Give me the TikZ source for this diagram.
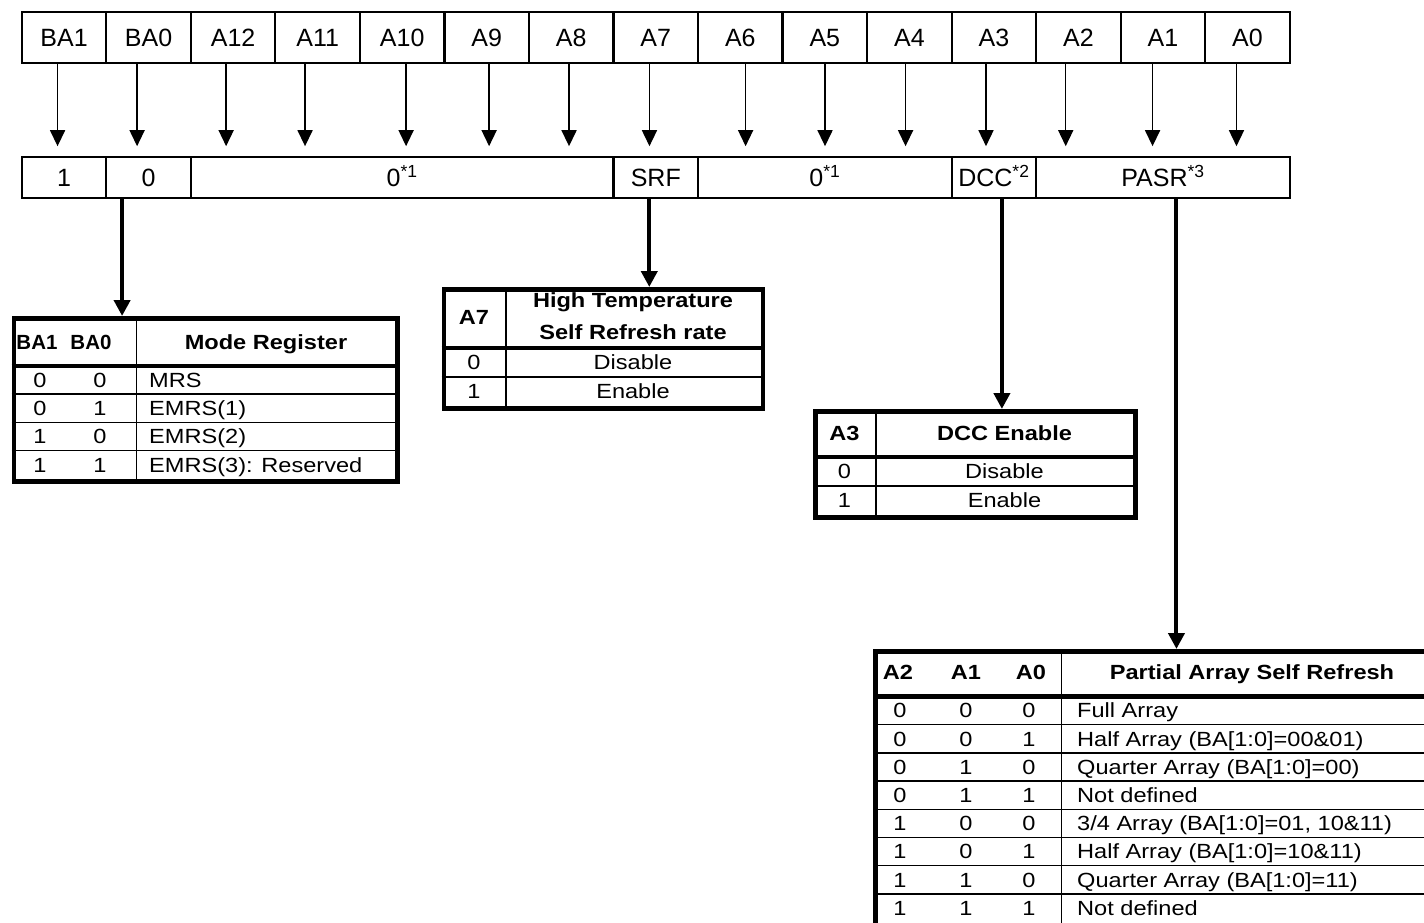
\documentclass[tikz,border=0pt]{standalone}
\usepackage{fontspec}
\setmainfont{Liberation Sans}
\newfontfamily\tabfont[FakeStretch=1.15]{Liberation Sans}
\usepackage{xcolor}
\usetikzlibrary{arrows.meta,positioning}

\tikzset{
  bitcell/.style={draw, line width=2.2pt, minimum width=84.53pt, minimum height=51.6pt,
    inner sep=0pt, anchor=north west, text height=17.9pt, text depth=0pt,
    font=\fontsize{25}{30}\selectfont},
  valcell/.style={bitcell, minimum height=41pt},
  bitarrow/.style={-{Triangle[length=16pt,width=15pt]}, line width=1.5pt, shorten >=9.5pt},
  fieldarrow/.style={-{Triangle[length=16pt,width=16pt]}, line width=4pt},
  tblframe/.style={draw, line width=4.5pt, inner sep=0pt, anchor=north west},
  tblrule/.style={line width=4.5pt},
  tblline/.style={line width=1.5pt},
  tbltxt/.style={inner sep=0pt, text height=14.7pt, text depth=0pt,
    font=\tabfont\fontsize{20.5}{26}\selectfont},
  tblhead/.style={tbltxt, font=\tabfont\bfseries\fontsize{20.5}{26}\selectfont}
}

\begin{document}
\begin{tikzpicture}[x=1pt, y=-1pt]
  \path[use as bounding box, fill=white] (0,0) rectangle (1424,923);

  % Address bits
  \foreach \lbl [count=\i from 0] in {BA1,BA0,A12,A11,A10,A9,A8,A7,A6,A5,A4,A3,A2,A1,A0}
    \node[bitcell] (b\i) at ({20.7+84.53*\i},10.7) {\lbl};

  % Register fields
  \foreach \name/\f/\s/\txt in {v0/0/1/1, v1/1/1/0, v2/2/5/{0\textsuperscript{*1}},
      v3/7/1/SRF, v4/8/3/{0\textsuperscript{*1}}, v5/11/1/{DCC\textsuperscript{*2}},
      v6/12/3/{PASR\textsuperscript{*3}}}
    \node[valcell, minimum width=\s*84.53pt] (\name) at ({20.7+84.53*\f},155.7) {\txt};

  % Mode register table
  \node[tblframe, minimum width=383.3pt, minimum height=163pt] (modetbl) at (11.7,316) {};
  \draw[tblrule] (11.7,366) -- (395,366);
  \draw[tblline] (136.7,316) -- (136.7,479);
  \foreach \k in {1,2,3}
    \draw[tblline] (11.7,{366+28.2*\k}) -- (395,{366+28.2*\k});
  \node[tblhead, font=\bfseries\fontsize{20.5}{26}\selectfont] (mh1) at (37,342) {BA1};
  \node[tblhead, font=\bfseries\fontsize{20.5}{26}\selectfont] (mh2) at (91,342) {BA0};
  \node[tblhead] (mh3) at (266,342) {Mode Register};
  \foreach \p/\q/\t [count=\k] in {0/0/MRS, 0/1/{EMRS(1)}, 1/0/{EMRS(2)}, 1/1/{EMRS(3): Reserved}} {
    \node[tbltxt] (mp\k) at (40,{351.9+28.2*\k}) {\p};
    \node[tbltxt] (mq\k) at (100,{351.9+28.2*\k}) {\q};
    \node[tbltxt, anchor=west] (mr\k) at (149,{351.9+28.2*\k}) {\t};
  }

  % Self refresh table
  \node[tblframe, minimum width=319pt, minimum height=119pt] (srftbl) at (441.5,287) {};
  \draw[tblrule] (441.5,348) -- (760.5,348);
  \draw[tblline] (441.5,377) -- (760.5,377);
  \draw[tblline] (506,287) -- (506,406);
  \node[tblhead] (sh1) at (474,317.5) {A7};
  \node[tblhead] (sh2) at (633,300.5) {High Temperature};
  \node[tblhead] (sh3) at (633,332.5) {Self Refresh rate};
  \node[tbltxt] (sa1) at (474,362.5) {0};
  \node[tbltxt] (sb1) at (633,362.5) {Disable};
  \node[tbltxt] (sa2) at (474,391.5) {1};
  \node[tbltxt] (sb2) at (633,391.5) {Enable};

  % DCC table
  \node[tblframe, minimum width=320pt, minimum height=106pt] (dcctbl) at (813,409) {};
  \draw[tblrule] (813,457) -- (1133,457);
  \draw[tblline] (813,486) -- (1133,486);
  \draw[tblline] (876,409) -- (876,515);
  \node[tblhead] (dh1) at (844.5,433) {A3};
  \node[tblhead] (dh2) at (1004.5,433) {DCC Enable};
  \node[tbltxt] (da1) at (844.5,471.5) {0};
  \node[tbltxt] (db1) at (1004.5,471.5) {Disable};
  \node[tbltxt] (da2) at (844.5,500.5) {1};
  \node[tbltxt] (db2) at (1004.5,500.5) {Enable};

  % PASR table
  \node[tblframe, minimum width=569pt, minimum height=277pt] (pasrtbl) at (873,649) {};
  \draw[tblrule] (873,696.5) -- (1442,696.5);
  \draw[tblline] (1061.7,649) -- (1061.7,926);
  \foreach \k in {1,...,7}
    \draw[tblline] (873,{696.5+28.2*\k}) -- (1442,{696.5+28.2*\k});
  \node[tblhead] (ph1) at (898,672) {A2};
  \node[tblhead] (ph2) at (966,672) {A1};
  \node[tblhead] (ph3) at (1031,672) {A0};
  \node[tblhead] (ph4) at (1252,672) {Partial Array Self Refresh};
  \foreach \p/\q/\r/\t [count=\k] in {0/0/0/{Full Array}, 0/0/1/{Half Array (BA[1:0]=00\&01)},
      0/1/0/{Quarter Array (BA[1:0]=00)}, 0/1/1/{Not defined},
      1/0/0/{3/4 Array (BA[1:0]=01, 10\&11)}, 1/0/1/{Half Array (BA[1:0]=10\&11)},
      1/1/0/{Quarter Array (BA[1:0]=11)}, 1/1/1/{Not defined}} {
    \node[tbltxt] (pp\k) at (900,{682.4+28.2*\k}) {\p};
    \node[tbltxt] (pq\k) at (966,{682.4+28.2*\k}) {\q};
    \node[tbltxt] (pr\k) at (1029,{682.4+28.2*\k}) {\r};
    \node[tbltxt, anchor=west] (ps\k) at (1077,{682.4+28.2*\k}) {\t};
  }

  % Bit arrows
  \foreach \i/\dx/\g in {0/-6.5/v0, 1/-11.5/v1, 2/-7/v2, 3/-12.6/v2, 4/3.9/v2, 5/2.4/v2,
      6/-2.2/v2, 7/-6.3/v3, 8/5.3/v4, 9/0.2/v4, 10/-3.8/v4, 11/-7.9/v5, 12/-12.7/v6,
      13/-10.4/v6, 14/-11/v6} {
    \path (b\i.south) ++(\dx,0) coordinate (t\i);
    \draw[bitarrow] (t\i) -- (t\i |- \g.north);
  }

  % Field arrows
  \path (v1.south) ++(-26.5,0) coordinate (f1);
  \path (v3.south) ++(-6.5,0) coordinate (f3);
  \path (v5.south) ++(8,0) coordinate (f5);
  \path (v6.south) ++(13.5,0) coordinate (f6);
  \draw[fieldarrow] (f1) -- (f1 |- modetbl.north);
  \draw[fieldarrow] (f3) -- (f3 |- srftbl.north);
  \draw[fieldarrow] (f5) -- (f5 |- dcctbl.north);
  \draw[fieldarrow] (f6) -- (f6 |- pasrtbl.north);
\end{tikzpicture}
\end{document}
